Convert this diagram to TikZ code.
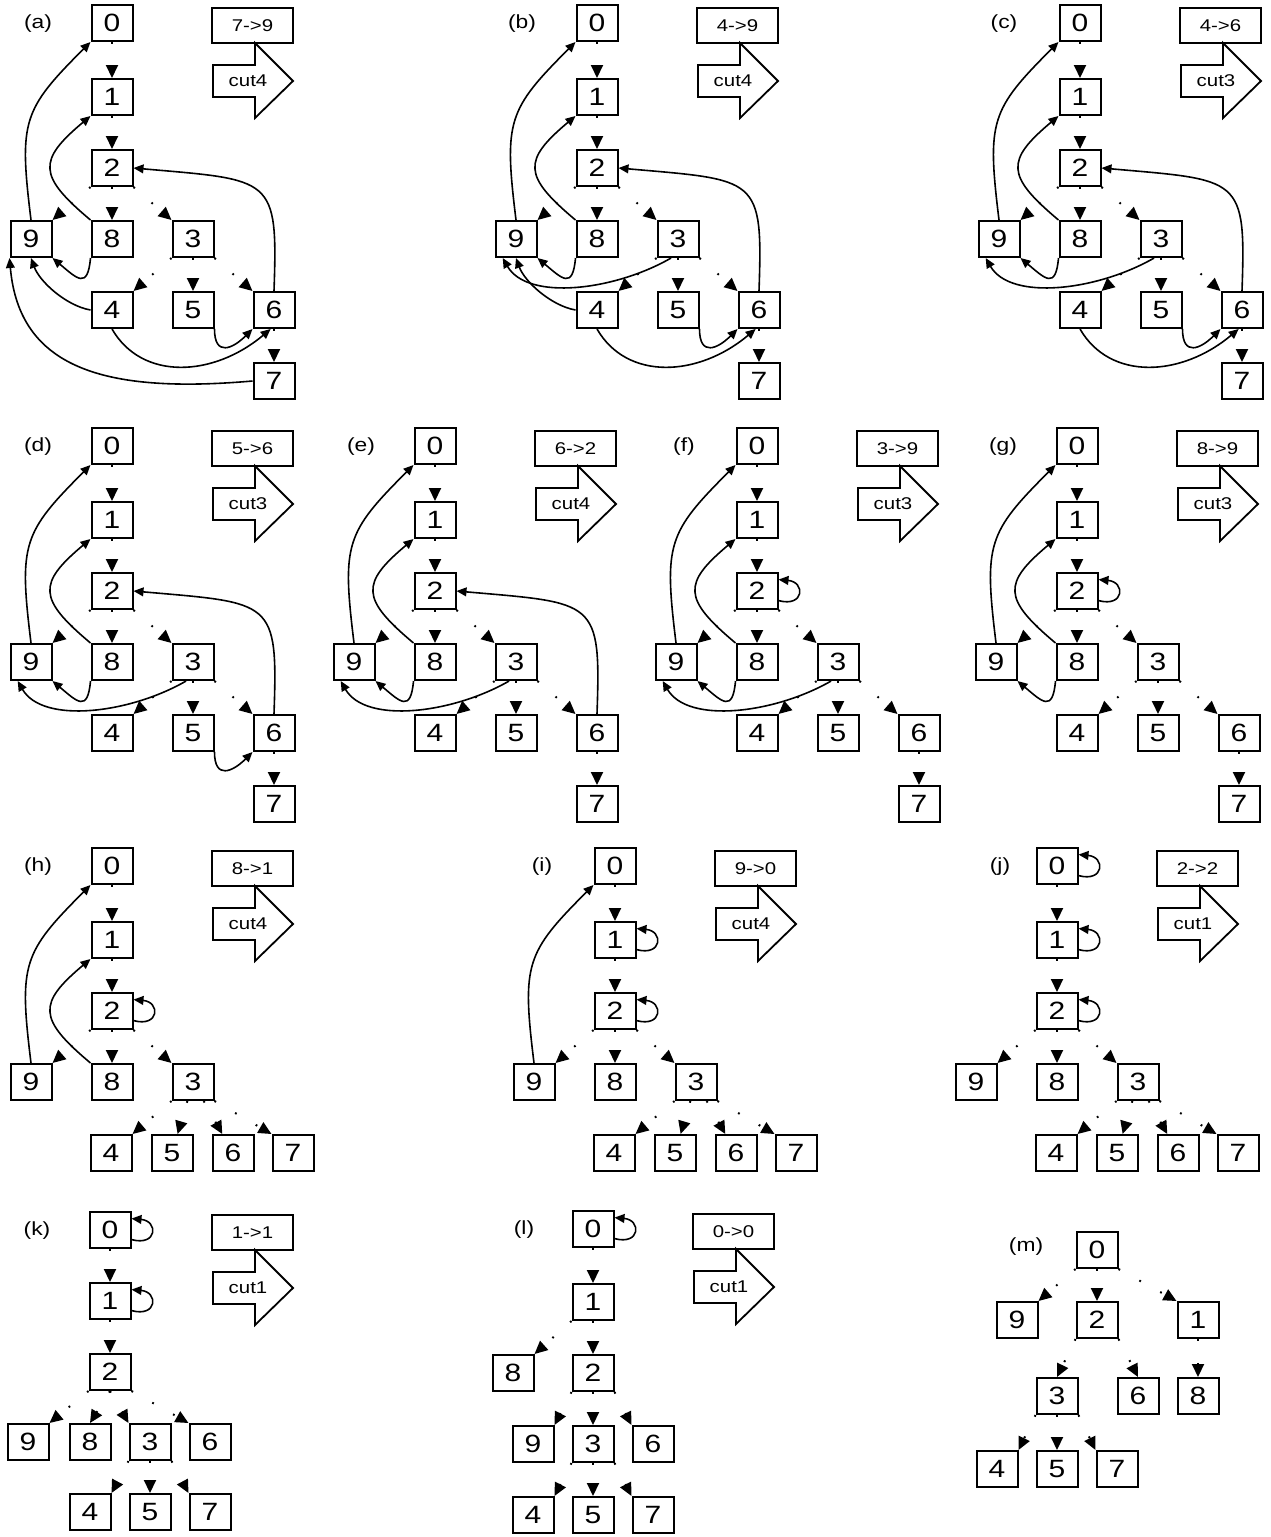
\documentclass[tikz,border=0pt]{standalone}
\usepackage{fontspec}
\setmainfont{Liberation Sans}[FakeStretch=1.2]
\usepackage{tikz}
\usetikzlibrary{arrows.meta}

\begin{document}
\begin{tikzpicture}[x=0.5pt, y=0.5pt, font=\fontsize{12.5}{14}\selectfont]
\tikzstyle{vtx} = [rectangle, draw, line width=1pt, minimum width=20.5pt, minimum height=18pt, inner sep=0pt]
\tikzstyle{tree} = [draw, line width=1pt, dash pattern=on 0.9pt off 11pt, -{Triangle[length=6.5pt, width=6pt]}]
\tikzstyle{back} = [draw, line width=0.8pt, -{Triangle[length=5pt, width=4.4pt]}]
\tikzstyle{selfloop} = [out=-15, in=-5, looseness=3.3]
\tikzstyle{tag} = [font=\fontsize{9.5}{11}\selectfont]
\tikzstyle{edgebox} = [rectangle, draw, line width=1pt, minimum width=40.5pt, minimum height=17.5pt, inner sep=0pt, font=\fontsize{8.5}{10}\selectfont]
\tikzstyle{cutarrow} = [draw, line width=0.9pt, line join=miter]
\tikzstyle{cuttext} = [font=\fontsize{8.5}{10}\selectfont]

\useasboundingbox (0,0) rectangle (1270,-1537);

% panel headers: tag, swapped edge and cut arrow
\foreach \p/\ox/\oy/\lx/\lbl/\cutno in {a/0/0/38/7->9/cut4, b/485/0/37/4->9/cut4, c/968/0/36/4->6/cut3,
    d/0/423/38/5->6/cut3, e/323/423/38/6->2/cut4, f/645/423/39/3->9/cut3, g/965/423/38/8->9/cut3,
    h/0/843/38/8->1/cut4, i/503/843/39/9->0/cut4, j/945/843/55/2->2/cut1,
    k/0/1207/37/1->1/cut1, l/481/1206/43/0->0/cut1} {
  \begin{scope}[shift={(\ox,-\oy)}]
    \node (tag\p) [tag] at (\lx,-24) {(\p)};
    \node (edge\p) [edgebox] at (252.5,-25.5) {\lbl};
    \draw [cutarrow] (213,-65) -- (255,-65) -- (255,-43) -- (293,-81) -- (255,-118) -- (255,-97) -- (213,-97) -- cycle;
    \node (cut\p) [cuttext] at (248,-81) {\cutno};
  \end{scope}
}

% panels (a)-(g)
\foreach \p/\ox/\oy in {a/0/0, b/485/0, c/968/0, d/0/423, e/323/423, f/645/423, g/965/423} {
  \begin{scope}[shift={(\ox,-\oy)}]
    \node (\p0) [vtx] at (112,-23) {0};
    \node (\p1) [vtx] at (112,-97) {1};
    \node (\p2) [vtx] at (112,-168) {2};
    \node (\p9) [vtx] at (31,-239) {9};
    \node (\p8) [vtx] at (112,-239) {8};
    \node (\p3) [vtx] at (193,-239) {3};
    \node (\p4) [vtx] at (112,-310) {4};
    \node (\p5) [vtx] at (193,-310) {5};
    \node (\p6) [vtx] at (274,-310) {6};
    \node (\p7) [vtx] at (274,-381) {7};
  \end{scope}
  \draw [tree] (\p0) -- (\p1);
  \draw [tree] (\p1) -- (\p2);
  \draw [tree] (\p2.south west) -- (\p9.north east);
  \draw [tree] (\p2) -- (\p8);
  \draw [tree] (\p2.south east) -- (\p3.north west);
  \draw [tree] (\p3.south west) -- (\p4.north east);
  \draw [tree] (\p3) -- (\p5);
  \draw [tree] (\p3.south east) -- (\p6.north west);
  \draw [tree] (\p6) -- (\p7);
}

% panels (h)-(j)
\foreach \p/\ox/\oy in {h/0/843, i/503/843, j/945/843} {
  \begin{scope}[shift={(\ox,-\oy)}]
    \node (\p0) [vtx] at (112,-23) {0};
    \node (\p1) [vtx] at (112,-97) {1};
    \node (\p2) [vtx] at (112,-168) {2};
    \node (\p9) [vtx] at (31,-239) {9};
    \node (\p8) [vtx] at (112,-239) {8};
    \node (\p3) [vtx] at (193,-239) {3};
    \node (\p4) [vtx] at (111,-310) {4};
    \node (\p5) [vtx] at (172,-310) {5};
    \node (\p6) [vtx] at (233,-310) {6};
    \node (\p7) [vtx] at (293,-310) {7};
  \end{scope}
  \draw [tree] (\p0) -- (\p1);
  \draw [tree] (\p1) -- (\p2);
  \draw [tree] (\p2.south west) -- (\p9.north east);
  \draw [tree] (\p2) -- (\p8);
  \draw [tree] (\p2.south east) -- (\p3.north west);
  \draw [tree] (\p3.south west) -- (\p4.north east);
  \draw [tree] (\p3) -- (\p5);
  \draw [tree] (\p3) -- (\p6);
  \draw [tree] (\p3.south east) -- (\p7.north west);
}

% panel (k)
\begin{scope}[shift={(0,-1207)}]
  \node (k0) [vtx] at (110,-23) {0};
  \node (k1) [vtx] at (110,-94) {1};
  \node (k2) [vtx] at (110,-165) {2};
  \node (k9) [vtx] at (28,-235) {9};
  \node (k8) [vtx] at (90,-235) {8};
  \node (k3) [vtx] at (150,-235) {3};
  \node (k6) [vtx] at (210,-235) {6};
  \node (k4) [vtx] at (90,-305) {4};
  \node (k5) [vtx] at (150,-305) {5};
  \node (k7) [vtx] at (210,-305) {7};
\end{scope}
\draw [tree] (k0) -- (k1);
\draw [tree] (k1) -- (k2);
\draw [tree] (k2.south west) -- (k9.north east);
\draw [tree] (k2.south) -- (k8.north);
\draw [tree] (k2.south) -- (k3.north west);
\draw [tree] (k2.south east) -- (k6.north west);
\draw [tree] (k3.south west) -- (k4.north east);
\draw [tree] (k3) -- (k5);
\draw [tree] (k3.south east) -- (k7.north west);

% panel (l)
\begin{scope}[shift={(481,-1206)}]
  \node (l0) [vtx] at (112,-23) {0};
  \node (l1) [vtx] at (112,-96) {1};
  \node (l8) [vtx] at (32,-167) {8};
  \node (l2) [vtx] at (112,-167) {2};
  \node (l9) [vtx] at (52,-238) {9};
  \node (l3) [vtx] at (112,-238) {3};
  \node (l6) [vtx] at (172,-238) {6};
  \node (l4) [vtx] at (52,-309) {4};
  \node (l5) [vtx] at (112,-309) {5};
  \node (l7) [vtx] at (172,-309) {7};
\end{scope}
\draw [tree] (l0) -- (l1);
\draw [tree] (l1.south west) -- (l8.north east);
\draw [tree] (l1) -- (l2);
\draw [tree] (l2.south west) -- (l9.north east);
\draw [tree] (l2) -- (l3);
\draw [tree] (l2.south east) -- (l6.north west);
\draw [tree] (l3.south west) -- (l4.north east);
\draw [tree] (l3) -- (l5);
\draw [tree] (l3.south east) -- (l7.north west);

% panel (m)
\node (tagm) [tag] at (1026,-1247) {(m)};
\node (m0) [vtx] at (1097,-1250) {0};
\node (m9) [vtx] at (1017,-1320) {9};
\node (m2) [vtx] at (1097,-1320) {2};
\node (m1) [vtx] at (1198,-1320) {1};
\node (m3) [vtx] at (1057,-1396) {3};
\node (m6) [vtx] at (1138,-1396) {6};
\node (m8) [vtx] at (1198,-1396) {8};
\node (m4) [vtx] at (997,-1469) {4};
\node (m5) [vtx] at (1057,-1469) {5};
\node (m7) [vtx] at (1117,-1469) {7};
\draw [tree] (m0.south west) -- (m9.north east);
\draw [tree] (m0) -- (m2);
\draw [tree] (m0.south east) -- (m1.north west);
\draw [tree] (m2.south west) -- (m3.north);
\draw [tree] (m2.south east) -- (m6.north);
\draw [tree] (m1) -- (m8);
\draw [tree] (m3.south west) -- (m4.north east);
\draw [tree] (m3) -- (m5);
\draw [tree] (m3.south east) -- (m7.north west);

% back edges
\foreach \p in {a,...,i}
  \draw [back] (\p9.north) .. controls +(97:100) and +(225:96) .. (\p0.south west);
\foreach \p in {a,...,h}
  \draw [back] (\p8.north west) .. controls +(140:69) and +(220:69) .. (\p1.south west);
\foreach \p in {a,...,g}
  \draw [back] (\p8.south west) .. controls +(-95:32) and +(-40:32) .. (\p9.south east);
\foreach \p in {a,...,e}
  \draw [back] (\p6.north) .. controls +(88:115) and +(-5:140) .. (\p2.east);
\foreach \p in {a,b}
  \draw [back] (\p4.west) .. controls +(170:25) and +(-70:25) .. (\p9.south);
\foreach \p in {b,...,f}
  \draw [back] (\p3.-110) .. controls +(210:65) and +(-60:50) .. (\p9.-125);
\foreach \p in {a,b,c}
  \draw [back] (\p4.south) .. controls +(-60:60) and +(-140:75) .. (\p6.-100);
\foreach \p in {a,...,d}
  \draw [back] (\p5.south east) .. controls +(-90:28) and +(-135:28) .. (\p6.south west);
\draw [back] (a7.west) .. controls +(185:150) and +(-85:110) .. (a9.south west);
\foreach \n in {f2, g2, h2, i1, i2, j0, j1, j2, k0, k1, l0}
  \draw [back] (\n.-24) to [selfloop] (\n.28);
\end{tikzpicture}
\end{document}
